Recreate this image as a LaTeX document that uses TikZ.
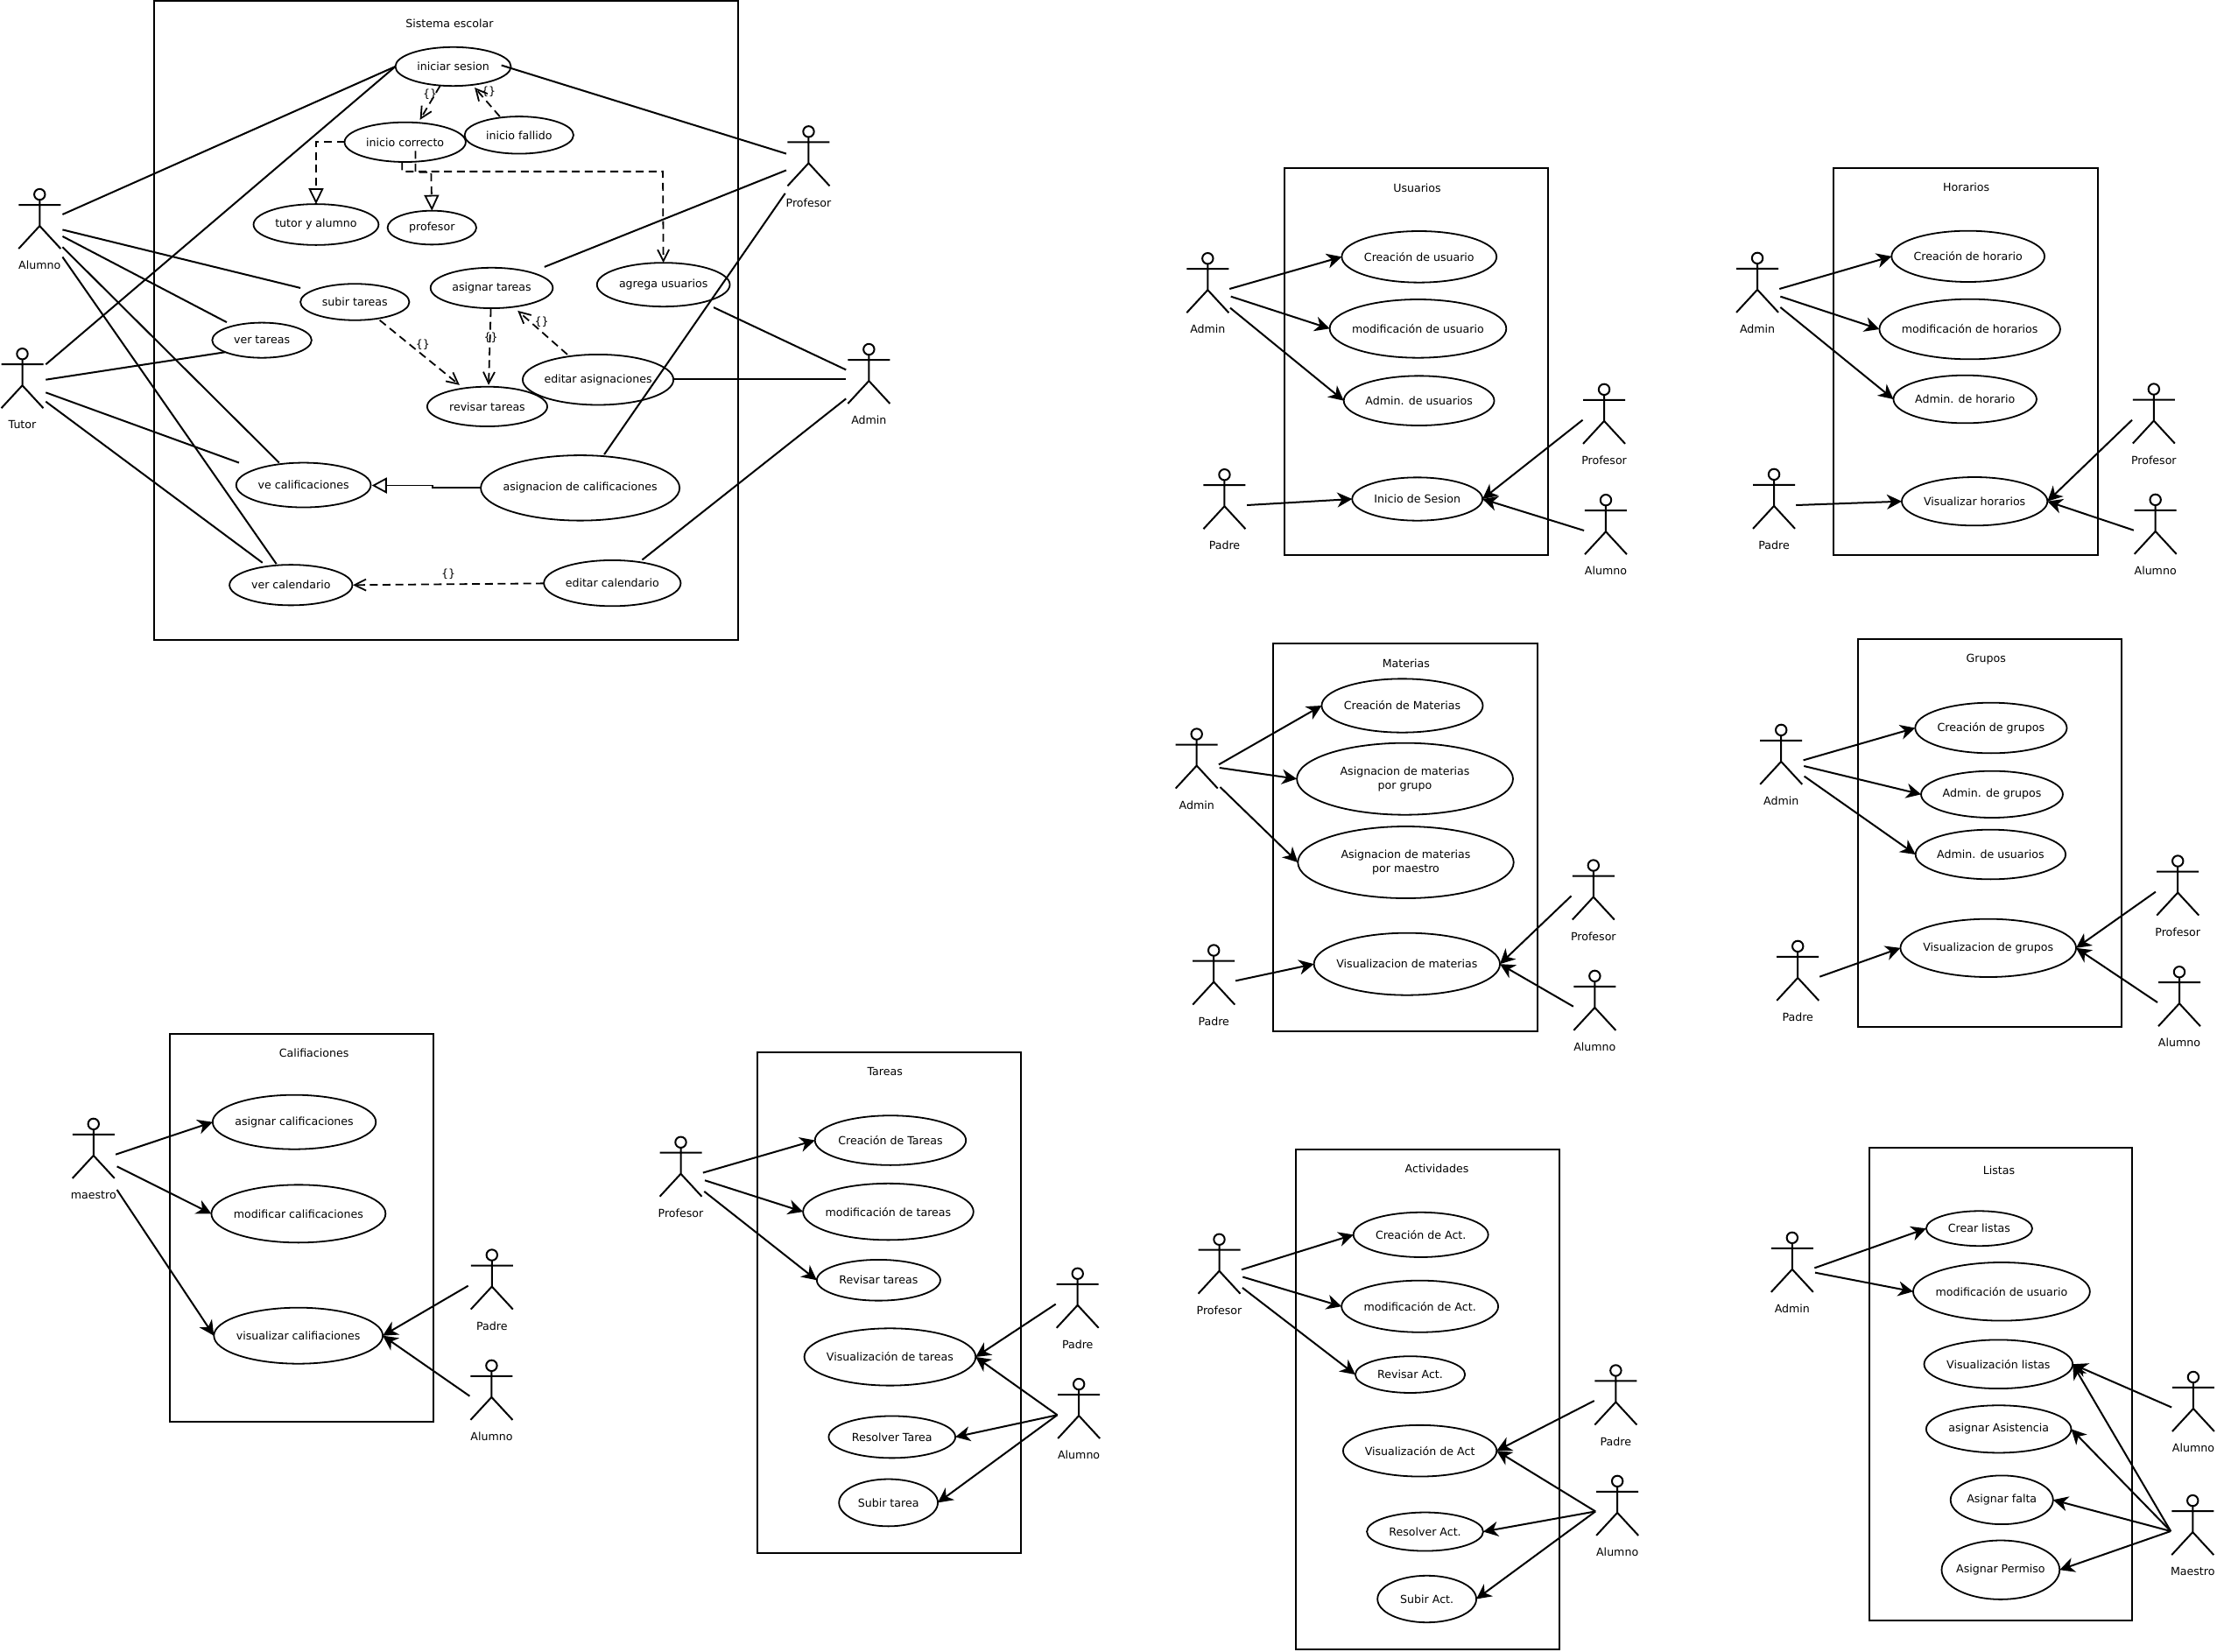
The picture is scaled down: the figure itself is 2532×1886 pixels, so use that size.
\documentclass[tikz,border=0pt]{standalone}
\usepackage{fontspec}
\setmainfont{DejaVu Sans}
\usetikzlibrary{arrows.meta,shapes.geometric}
\tikzset{
  ucase/.style={ellipse,draw,line width=.9pt,inner sep=-60pt,outer sep=0pt,align=center,font=\fontsize{6.3}{8}\selectfont},
  lab/.style={inner sep=0pt,align=center,font=\fontsize{6.3}{8}\selectfont},
  sysb/.style={rectangle,draw,line width=1pt,inner sep=0pt,outer sep=0pt},
  stick/.style={line width=1pt},
  headc/.style={circle,draw,line width=1pt,minimum size=6.2pt,inner sep=0pt,outer sep=0pt},
  assoc/.style={line width=1pt},
  nav/.style={line width=1pt,-{Stealth[length=8.5pt,width=8.5pt,inset=2.6pt]}},
  dep/.style={line width=.9pt,dash pattern=on 4.5pt off 2.8pt,-{Straight Barb[length=6.5pt,width=6.5pt]}},
  gendash/.style={line width=.9pt,dash pattern=on 4.5pt off 2.8pt,-{Triangle[open,fill=white,length=9pt,width=8.5pt]}},
  gensolid/.style={line width=.9pt,-{Triangle[open,fill=white,length=8.5pt,width=9pt]}}
}
\newcommand\panel[4]{\def\ox{#1}\def\oy{#2}\def\kx{#3}\def\ky{#4}}
\newcommand\uc[6]{%
  \pgfmathsetmacro\cx{\ox+(#2+#3)/2/\kx}\pgfmathsetmacro\cy{\oy+(#4+#5)/2/\ky}%
  \pgfmathsetmacro\bw{(#3-#2)/\kx*.5}\pgfmathsetmacro\bh{(#5-#4)/\ky*.5}%
  \node[ucase,minimum width=\bw pt,minimum height=\bh pt] (#1) at (\cx,\cy) {#6};}
\newcommand\zpt[3]{%
  \pgfmathsetmacro\cx{\ox+#2/\kx}\pgfmathsetmacro\cy{\oy+#3/\ky}%
  \coordinate (#1) at (\cx,\cy);}
\newcommand\zlab[4]{%
  \pgfmathsetmacro\cx{\ox+#2/\kx}\pgfmathsetmacro\cy{\oy+#3/\ky}%
  \node[lab] (#1) at (\cx,\cy) {#4};}
\newcommand\actor[4]{%
  \pgfmathsetmacro\cx{\ox+#2/\kx}\pgfmathsetmacro\cy{\oy+#3/\ky+1.2}%
  \begin{scope}[shift={(\cx,\cy)}]
    \node[headc] (#1) at (0,0) {};
    \draw[stick] (#1.south) -- (0,36) (-24,12) -- (24,12) (-24,62) -- (0,36) -- (24,62);
    \node[lab] (#1-l) at (0,81) {#4};
  \end{scope}}
\newcommand\sysbox[8]{%
  \pgfmathsetmacro\cx{\ox+(#2+#4)/2/\kx}\pgfmathsetmacro\cy{\oy+(#3+#5)/2/\ky}%
  \pgfmathsetmacro\bw{(#4-#2)/\kx*.5}\pgfmathsetmacro\bh{(#5-#3)/\ky*.5}%
  \node[sysb,minimum width=\bw pt,minimum height=\bh pt] (#1) at (\cx,\cy) {};
  \zlab{#1-t}{#7}{#8}{#6}}
\begin{document}
\begin{tikzpicture}[x=.5pt,y=-.5pt]
\useasboundingbox (0,0) rectangle (2532,1886);

% ---------- Sistema escolar
\panel{0}{0}{1.568}{2.119}
\sysbox{sis}{276}{2}{1322}{1548}{Sistema escolar}{805}{57}
\uc{ini}{708}{915}{114}{208}{iniciar sesion}
\uc{cor}{617}{834}{296}{392}{inicio correcto}
\uc{fal}{832}{1027}{282}{372}{inicio fallido}
\uc{tya}{454}{678}{494}{593}{tutor y alumno}
\uc{pro}{694}{853}{510}{592}{profesor}
\uc{ast}{771}{990}{648}{746}{asignar tareas}
\uc{agr}{1069}{1307}{636}{742}{agrega usuarios}
\uc{sub}{538}{733}{687}{775}{subir tareas}
\uc{vta}{380}{558}{781}{866}{ver tareas}
\uc{eda}{936}{1206}{858}{980}{editar asignaciones}
\uc{rev}{765}{980}{936}{1032}{revisar tareas}
\uc{vca}{423}{664}{1120}{1228}{ve calificaciones}
\uc{acl}{861}{1217}{1102}{1260}{asignacion de calificaciones}
\uc{vcl}{411}{631}{1367}{1465}{ver calendario}
\uc{ecl}{974}{1219}{1356}{1467}{editar calendario}
\actor{sAl}{71}{468}{Alumno}
\actor{sTu}{40}{854}{Tutor}
\actor{sPr}{1448}{316}{Profesor}
\actor{sAd}{1556}{843}{Admin}
\zpt{al1}{112}{519}\zpt{al2}{112}{556}\zpt{al3}{112}{572}\zpt{al4}{112}{598}\zpt{al5}{112}{622}
\zpt{tu1}{82}{882}\zpt{tu2}{82}{919}\zpt{tu3}{82}{950}\zpt{tu4}{82}{972}
\zpt{pr1}{1408}{372}\zpt{pr2}{1408}{412}\zpt{pr3}{1406}{468}
\zpt{ad1}{1515}{895}\zpt{ad2}{1515}{918}\zpt{ad3}{1515}{965}
\zpt{isE}{898}{158}\zpt{asE}{975}{646}\zpt{acN}{1082}{1100}\zpt{agS}{1278}{744}\zpt{ecN}{1150}{1355}
\zpt{subE}{538}{697}\zpt{vtaE}{406}{780}\zpt{vcaA}{500}{1120}\zpt{vcaB}{428}{1120}\zpt{vclA}{495}{1365}\zpt{vclB}{470}{1362}
\draw[assoc] (al1) -- (ini.west);
\draw[assoc] (tu1) -- (ini.west);
\draw[assoc] (isE) -- (pr1);
\draw[assoc] (al2) -- (subE);
\draw[assoc] (al3) -- (vtaE);
\draw[assoc] (al4) -- (vcaA);
\draw[assoc] (al5) -- (vclA);
\draw[assoc] (tu2) -- (vta.198);
\draw[assoc] (tu3) -- (vcaB);
\draw[assoc] (tu4) -- (vclB);
\draw[assoc] (pr2) -- (asE);
\draw[assoc] (pr3) -- (acN);
\draw[assoc] (agS) -- (ad1);
\zpt{edaE}{1206}{918}
\draw[line width=1.1pt] (edaE) -- (ad2);
\draw[assoc] (ecN) -- (ad3);
% dependencies
\zpt{d1a}{788}{208}\zpt{d1b}{752}{290}
\zpt{d2a}{895}{282}\zpt{d2b}{850}{212}
\draw[dep] (d1a) -- (d1b);
\draw[dep] (d2a) -- (d2b);
\zlab{l1}{770}{228}{\{\}}
\zlab{l2}{875}{222}{\{\}}
\zpt{g1}{566}{344}
\draw[gendash] (cor.west) -- (g1) -- (tya.north);
\zpt{g2a}{744}{365}\zpt{g2b}{744}{417}\zpt{g2c}{772}{417}
\draw[gendash] (g2a) -- (g2b) -- (g2c) -- (pro.north);
\zpt{g3a}{720}{393}\zpt{g3b}{720}{415}\zpt{g3c}{1187}{415}
\draw[dep] (g3a) -- (g3b) -- (g3c) -- (agr.north);
\zpt{d3a}{680}{775}\zpt{d3b}{823}{932}
\draw[dep] (d3a) -- (d3b);
\zlab{l3}{757}{835}{\{\}}
\zpt{d4a}{879}{748}\zpt{d4b}{875}{932}
\draw[dep] (d4a) -- (d4b);
\zlab{l4}{879}{817}{\{\}}
\zpt{d5a}{1016}{858}\zpt{d5b}{927}{752}
\draw[dep] (d5a) -- (d5b);
\zlab{l5}{970}{779}{\{\}}
\zpt{h1}{775}{1181}\zpt{h2}{775}{1175}
\zpt{h3}{666}{1175}\zpt{h4}{861}{1181}
\draw[gensolid] (h4) -- (h1) -- (h2) -- (h3);
\zpt{e1}{974}{1412}\zpt{e2}{632}{1416}
\draw[dep] (e1) -- (e2);
\zlab{l6}{803}{1390}{\{\}}

% ---------- Usuarios
\panel{1320}{170}{2.613}{3}
\sysbox{usu}{384}{65}{1170}{1393}{Usuarios}{780}{133}
\uc{u1}{555}{1017}{282}{458}{Creación de usuario}
\uc{u2}{519}{1046}{516}{716}{modificación de usuario}
\uc{u3}{561}{1010}{778}{948}{Admin. de usuarios}
\uc{u4}{586}{975}{1126}{1274}{Inicio de Sesion}
\actor{uAd}{155}{372}{Admin}
\actor{uPa}{205}{1113}{Padre}
\actor{uPr}{1338}{821}{Profesor}
\actor{uAl}{1343}{1200}{Alumno}
\zpt{ua1}{220}{480}\zpt{ua2}{224}{506}\zpt{ua3}{222}{545}\zpt{ua4}{272}{1221}\zpt{ua5}{1274}{929}\zpt{ua6}{1278}{1308}
\draw[nav] (ua1) -- (u1.west);
\draw[nav] (ua2) -- (u2.west);
\draw[nav] (ua3) -- (u3.west);
\draw[nav] (ua4) -- (u4.west);
\draw[nav] (ua5) -- (u4.east);
\draw[nav] (ua6) -- (u4.east);

% ---------- Horarios
\panel{1960}{170}{2.741}{3}
\sysbox{hor}{368}{65}{1194}{1393}{Horarios}{783}{131}
\uc{h1n}{549}{1028}{281}{456}{Creación de horario}
\uc{h2n}{511}{1077}{515}{721}{modificación de horarios}
\uc{h3n}{555}{1003}{776}{940}{Admin. de horario}
\uc{h4n}{581}{1037}{1125}{1291}{Visualizar horarios}
\actor{hAd}{129}{371}{Admin}
\actor{hPa}{181}{1112}{Padre}
\actor{hPr}{1370}{820}{Profesor}
\actor{hAl}{1375}{1199}{Alumno}
\zpt{ha1}{198}{480}\zpt{ha2}{201}{506}\zpt{ha3}{201}{543}\zpt{ha4}{250}{1221}\zpt{ha5}{1302}{929}\zpt{ha6}{1307}{1307}
\draw[nav] (ha1) -- (h1n.west);
\draw[nav] (ha2) -- (h2n.west);
\draw[nav] (ha3) -- (h3n.west);
\draw[nav] (ha4) -- (h4n.west);
\draw[nav] (ha5) -- (h4n.east);
\draw[nav] (ha6) -- (h4n.east);

% ---------- Materias
\panel{1320}{720}{2.613}{3}
\sysbox{mat}{351}{45}{1138}{1374}{Materias}{747}{112}
\uc{m1}{495}{976}{166}{350}{Creación de Materias}
\uc{m2}{421}{1066}{386}{632}{Asignacion de materias\\por grupo}
\uc{m3}{424}{1068}{672}{918}{Asignacion de materias\\por maestro}
\uc{m4}{472}{1027}{1037}{1250}{Visualizacion de materias}
\actor{mAd}{122}{352}{Admin}
\actor{mPa}{173}{1093}{Padre}
\actor{mPr}{1306}{802}{Profesor}
\actor{mAl}{1310}{1181}{Alumno}
\zpt{ma1}{188}{460}\zpt{ma2}{190}{471}\zpt{ma3}{192}{537}\zpt{ma4}{238}{1201}\zpt{ma5}{1240}{910}\zpt{ma6}{1246}{1289}
\draw[nav] (ma1) -- (m1.west);
\draw[nav] (ma2) -- (m2.west);
\draw[nav] (ma3) -- (m3.west);
\draw[nav] (ma4) -- (m4.west);
\draw[nav] (ma5) -- (m4.east);
\draw[nav] (ma6) -- (m4.east);

% ---------- Grupos
\panel{1980}{720}{2.841}{3}
\sysbox{gru}{403}{31}{1258}{1360}{Grupos}{819}{98}
\uc{gr1}{589}{1081}{248}{421}{Creación de grupos}
\uc{gr2}{608}{1068}{482}{642}{Admin. de grupos}
\uc{gr3}{590}{1077}{683}{853}{Admin. de usuarios}
\uc{gr4}{541}{1111}{989}{1188}{Visualizacion de grupos}
\actor{gAd}{154}{338}{Admin}
\actor{gPa}{208}{1079}{Padre}
\actor{gPr}{1441}{787}{Profesor}
\actor{gAl}{1446}{1167}{Alumno}
\zpt{ga1}{226}{445}\zpt{ga2}{228}{465}\zpt{ga3}{229}{500}\zpt{ga4}{279}{1187}\zpt{ga5}{1369}{896}\zpt{ga6}{1375}{1275}
\draw[nav] (ga1) -- (gr1.west);
\draw[nav] (ga2) -- (gr2.west);
\draw[nav] (ga3) -- (gr3.west);
\draw[nav] (ga4) -- (gr4.west);
\draw[nav] (ga5) -- (gr4.east);
\draw[nav] (ga6) -- (gr4.east);

% ---------- Califiaciones
\panel{60}{1160}{2.8}{3}
\sysbox{cal}{375}{62}{1219}{1391}{Califiaciones}{836}{127}
\uc{c1}{512}{1034}{272}{458}{asignar calificaciones}
\uc{c2}{508}{1065}{580}{778}{modificar calificaciones}
\uc{c3}{516}{1056}{1001}{1193}{visualizar califiaciones}
\actor{cMa}{131}{368}{maestro}
\actor{cPa}{1405}{817}{Padre}
\actor{cAl}{1404}{1196}{Alumno}
\zpt{ca1}{202}{476}\zpt{ca2}{206}{517}\zpt{ca3}{206}{597}\zpt{ca4}{1329}{926}\zpt{ca5}{1334}{1304}
\draw[nav] (ca1) -- (c1.west);
\draw[nav] (ca2) -- (c2.west);
\draw[nav] (ca3) -- (c3.west);
\draw[nav] (ca4) -- (c3.east);
\draw[nav] (ca5) -- (c3.east);

% ---------- Tareas
\panel{730}{1180}{2.8}{2.526}
\sysbox{tar}{378}{55}{1222}{1500}{Tareas}{786}{110}
\uc{t1}{562}{1045}{238}{381}{Creación de Tareas}
\uc{t2}{524}{1069}{434}{597}{modificación de tareas}
\uc{t3}{568}{963}{654}{772}{Revisar tareas}
\uc{t4}{528}{1076}{852}{1017}{Visualización de tareas}
\uc{t5}{606}{1011}{1105}{1226}{Resolver Tarea}
\uc{t6}{639}{955}{1287}{1423}{Subir tarea}
\actor{tPr}{133}{312}{Profesor}
\actor{tPa}{1402}{691}{Padre}
\actor{tAl}{1406}{1010}{Alumno}
\zpt{ta1}{204}{403}\zpt{ta2}{210}{425}\zpt{ta3}{208}{457}\zpt{ta4}{1332}{782}\zpt{ta5}{1337}{1102}
\draw[nav] (ta1) -- (t1.west);
\draw[nav] (ta2) -- (t2.west);
\draw[nav] (ta3) -- (t3.west);
\draw[nav] (ta4) -- (t4.east);
\draw[nav] (ta5) -- (t4.east);
\draw[nav] (ta5) -- (t5.east);
\draw[nav] (ta5) -- (t6.east);

% ---------- Actividades
\panel{1350}{1296}{2.8}{2.658}
\sysbox{act}{364}{44}{1208}{1563}{Actividades}{815}{102}
\uc{a1}{548}{979}{236}{372}{Creación de Act.}
\uc{a2}{510}{1011}{443}{600}{modificación de Act.}
\uc{a3}{554}{905}{673}{784}{Revisar Act.}
\uc{a4}{515}{1006}{882}{1038}{Visualización de Act}
\uc{a5}{591}{963}{1147}{1264}{Resolver Act.}
\uc{a6}{625}{941}{1339}{1481}{Subir Act.}
\actor{aPr}{119}{315}{Profesor}
\actor{aPa}{1387}{713}{Padre}
\actor{aAl}{1392}{1049}{Alumno}
\zpt{aa1}{190}{410}\zpt{aa2}{194}{432}\zpt{aa3}{193}{465}\zpt{aa4}{1318}{808}\zpt{aa5}{1322}{1144}
\draw[nav] (aa1) -- (a1.west);
\draw[nav] (aa2) -- (a2.west);
\draw[nav] (aa3) -- (a3.west);
\draw[nav] (aa4) -- (a4.east);
\draw[nav] (aa5) -- (a4.east);
\draw[nav] (aa5) -- (a5.east);
\draw[nav] (aa5) -- (a6.east);

% ---------- Listas
\panel{2000}{1296}{2.947}{2.658}
\sysbox{lis}{397}{40}{1283}{1474}{Listas}{834}{108}
\uc{l1n}{589}{946}{232}{338}{Crear listas}
\uc{l2n}{545}{1140}{388}{565}{modificación de usuario}
\uc{l3n}{582}{1082}{623}{771}{Visualización listas}
\uc{l4n}{589}{1077}{822}{966}{asignar Asistencia}
\uc{l5n}{671}{1016}{1035}{1183}{Asignar falta}
\uc{l6n}{641}{1038}{1232}{1411}{Asignar Permiso}
\actor{lAd}{138}{310}{Admin}
\actor{lAl}{1488}{733}{Alumno}
\actor{lMa}{1486}{1108}{Maestro}
\zpt{la1}{213}{405}\zpt{la2}{215}{419}\zpt{la3}{1415}{828}\zpt{la4}{1412}{1204}
\draw[nav] (la1) -- (l1n.west);
\draw[nav] (la2) -- (l2n.west);
\draw[nav] (la3) -- (l3n.east);
\draw[nav] (la4) -- (l3n.east);
\draw[nav] (la4) -- (l4n.east);
\draw[nav] (la4) -- (l5n.east);
\draw[nav] (la4) -- (l6n.east);
\end{tikzpicture}
\end{document}
